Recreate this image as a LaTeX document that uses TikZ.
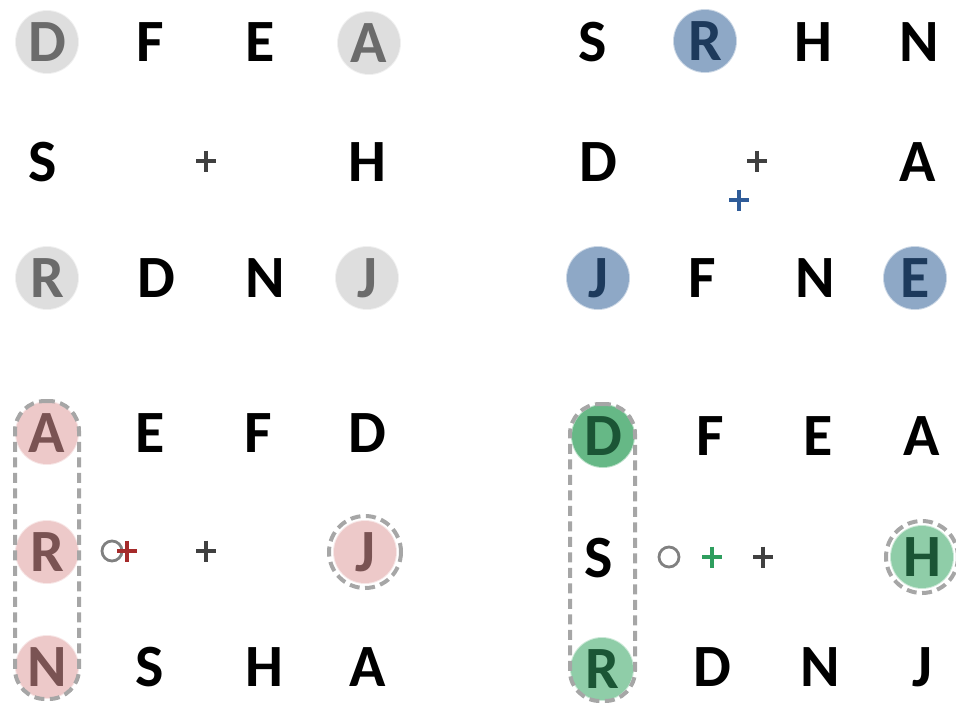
\documentclass[tikz,border=0pt]{standalone}
\usepackage{fontspec}
\setmainfont{Carlito}
\usetikzlibrary{fit}
\definecolor{grayfill}{HTML}{DEDEDE}
\definecolor{graytext}{HTML}{6B6B6B}
\definecolor{bluefill}{HTML}{8EA8C6}
\definecolor{bluetext}{HTML}{1D3A5C}
\definecolor{pinkfill}{HTML}{EDC9C9}
\definecolor{pinktext}{HTML}{7A5353}
\definecolor{greenfill}{HTML}{66B886}
\definecolor{greenfillL}{HTML}{8FCDA8}
\definecolor{greentext}{HTML}{1B5535}
\definecolor{dashgray}{HTML}{A6A6A6}
\definecolor{darkplus}{HTML}{404040}
\definecolor{blueplus}{HTML}{2F5C99}
\definecolor{redplus}{HTML}{A52A2A}
\definecolor{greenplus}{HTML}{2E9E5E}
\definecolor{ringgray}{HTML}{808080}
\tikzset{
  x=1pt, y=-1pt,
  letter/.style={inner sep=0pt, text depth=0pt, font=\fontsize{60}{60}\selectfont\bfseries, text=black},
  disc/.style={letter, circle, minimum size=62pt, fill=#1, draw=#1, draw opacity=0.45, line width=2pt},
  gdisc/.style={disc=grayfill, text=graytext},
  bdisc/.style={disc=bluefill, text=bluetext},
  pdisc/.style={disc=pinkfill, text=pinktext},
  gndisc/.style={disc=greenfill, text=greentext},
  gldisc/.style={disc=greenfillL, text=greentext},
  dashring/.style={draw=dashgray, line width=4pt, dash pattern=on 10pt off 5.5pt},
  smallring/.style={circle, draw=ringgray, line width=2.8pt, minimum size=20pt, inner sep=0pt},
  pics/plussign/.style={code={\draw[line width=3.2pt, #1] (-10,0) -- (10,0) (0,-10.5) -- (0,10.5);}},
}
\begin{document}
\begin{tikzpicture}
\useasboundingbox (0,0) rectangle (956,702);
% ---------- top-left panel ----------
\node[gdisc] (tl11) at (47,42) {D};
\node[letter] (tl12) at (150,42) {F};
\node[letter] (tl13) at (260,42) {E};
\node[gdisc] (tl14) at (369,43) {A};
\node[letter] (tl21) at (43,162) {S};
\node[letter] (tl24) at (367,162) {H};
\node[gdisc] (tl31) at (47,278) {R};
\node[letter] (tl32) at (156,278) {D};
\node[letter] (tl33) at (265,278) {N};
\node[gdisc] (tl34) at (367,278) {J};
\pic at (206,161) {plussign=darkplus};
% ---------- top-right panel ----------
\node[letter] (tr11) at (593,42) {S};
\node[bdisc] (tr12) at (705,41) {R};
\node[letter] (tr13) at (813,42) {H};
\node[letter] (tr14) at (919,42) {N};
\node[letter] (tr21) at (598,162) {D};
\node[letter] (tr24) at (918,162) {A};
\node[bdisc] (tr31) at (598,278) {J};
\node[letter] (tr32) at (702,278) {F};
\node[letter] (tr33) at (815,278) {N};
\node[bdisc] (tr34) at (915,278) {E};
\pic at (757,161) {plussign=darkplus};
\pic at (739,200) {plussign=blueplus};
% ---------- bottom-left panel ----------
\node[pdisc] (bl11) at (47,433) {A};
\node[letter] (bl12) at (150,433) {E};
\node[letter] (bl13) at (258,433) {F};
\node[letter] (bl14) at (367,433) {D};
\node[pdisc] (bl21) at (47,552) {R};
\node[pdisc] (bl24) at (365,552) {J};
\node[pdisc] (bl31) at (47,667) {N};
\node[letter] (bl32) at (150,667) {S};
\node[letter] (bl33) at (264,667) {H};
\node[letter] (bl34) at (368,667) {A};
\node[fit=(bl11)(bl31), inner sep=0pt, rounded corners=30pt, dashring] (blgroup) {};
\draw[dashring] (bl24.center) circle[radius=36];
\node[smallring] (blring) at (112,551) {};
\pic at (127,551) {plussign=redplus};
\pic at (206,551) {plussign=darkplus};
% ---------- bottom-right panel ----------
\node[gndisc] (br11) at (603,436) {D};
\node[letter] (br12) at (710,436) {F};
\node[letter] (br13) at (818,436) {E};
\node[letter] (br14) at (922,436) {A};
\node[letter] (br21) at (599,558) {S};
\node[gldisc] (br24) at (922,557) {H};
\node[gldisc] (br31) at (602,669) {R};
\node[letter] (br32) at (712,667) {D};
\node[letter] (br33) at (820,667) {N};
\node[letter] (br34) at (922,667) {J};
\node[fit=(br11)(br31), inner sep=0pt, rounded corners=30pt, dashring] (brgroup) {};
\draw[dashring] (br24.center) circle[radius=36];
\node[smallring] (brring) at (669,557) {};
\pic at (712,557) {plussign=greenplus};
\pic at (763,557) {plussign=darkplus};
\end{tikzpicture}
\end{document}
